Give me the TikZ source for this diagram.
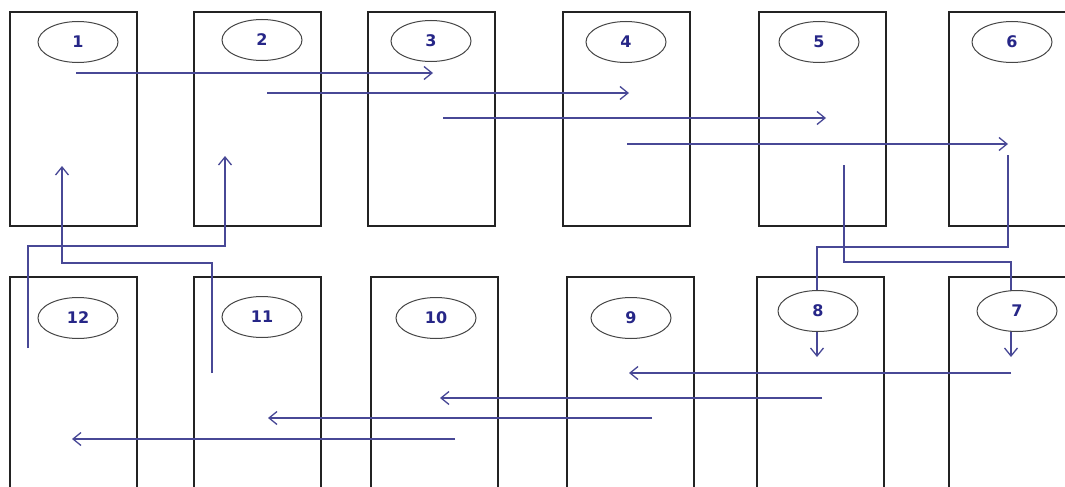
\documentclass[tikz,border=0pt]{standalone}
\usepackage{fontspec}
\setmainfont{DejaVu Sans}
\usetikzlibrary{shapes.geometric,arrows.meta}
\definecolor{boxline}{RGB}{35,35,35}
\definecolor{flow}{RGB}{72,72,150}
\definecolor{lbl}{RGB}{38,38,135}
\definecolor{ovl}{RGB}{70,70,70}
\begin{document}
\begin{tikzpicture}[x=1pt,y=-1pt,
  cell/.style={draw=boxline,line width=1.5pt,inner sep=0pt,minimum width=127pt},
  tcell/.style={cell,minimum height=214pt},
  bcell/.style={cell,minimum height=223pt},
  tag/.style={ellipse,draw=ovl,line width=1pt,fill=white,inner sep=0pt,
    minimum width=80pt,minimum height=41pt,text=lbl,
    font=\fontsize{16}{19}\selectfont\bfseries},
  flowline/.style={draw=flow,line width=1.3pt},
  flowarrow/.style={flowline,-{Straight Barb[length=8pt,width=13pt,line width=1.3pt]}}]
\useasboundingbox (0,0) rectangle (1065,487);
\clip (0,0) rectangle (1065,487);
% top boxes
\node[tcell] (b1) at (73.5,119) {};
\node[tcell] (b2) at (257.5,119) {};
\node[tcell] (b3) at (431.5,119) {};
\node[tcell] (b4) at (626.5,119) {};
\node[tcell] (b5) at (822.5,119) {};
\node[tcell,minimum width=131pt] (b6) at (1014.5,119) {};
% bottom boxes
\node[bcell] (b12) at (73.5,388.5) {};
\node[bcell] (b11) at (257.5,388.5) {};
\node[bcell] (b10) at (434.5,388.5) {};
\node[bcell] (b9) at (630.5,388.5) {};
\node[bcell] (b8) at (820.5,388.5) {};
\node[bcell,minimum width=131pt] (b7) at (1014.5,388.5) {};
% coordinates
\coordinate (s1) at (76,73);   \coordinate (e1) at (433,73);
\coordinate (s2) at (267,93);  \coordinate (e2) at (629,93);
\coordinate (s3) at (443,118); \coordinate (e3) at (826,118);
\coordinate (s4) at (627,144); \coordinate (e4) at (1008,144);
\coordinate (d6) at (1008,155); \coordinate (d6a) at (1008,247);
\coordinate (d6b) at (817,247); \coordinate (d6e) at (817,357);
\coordinate (d5) at (844,165); \coordinate (d5a) at (844,262);
\coordinate (d5b) at (1011,262); \coordinate (d5e) at (1011,357);
\coordinate (s7) at (1011,373); \coordinate (e7) at (629,373);
\coordinate (s8) at (822,398);  \coordinate (e8) at (440,398);
\coordinate (s9) at (652,418);  \coordinate (e9) at (268,418);
\coordinate (s10) at (455,439); \coordinate (e10) at (72,439);
\coordinate (u11) at (212,373); \coordinate (u11a) at (212,263);
\coordinate (u11b) at (62,263); \coordinate (u11e) at (62,166);
\coordinate (u12) at (28,348);  \coordinate (u12a) at (28,246);
\coordinate (u12b) at (225,246); \coordinate (u12e) at (225,156);
% connectors
\draw[flowarrow] (s1) -- (e1);
\draw[flowarrow] (s2) -- (e2);
\draw[flowarrow] (s3) -- (e3);
\draw[flowarrow] (s4) -- (e4);
\draw[flowarrow] (d6) -- (d6a) -- (d6b) -- (d6e);
\draw[flowarrow] (d5) -- (d5a) -- (d5b) -- (d5e);
\draw[flowarrow] (s7) -- (e7);
\draw[flowarrow] (s8) -- (e8);
\draw[flowarrow] (s9) -- (e9);
\draw[flowarrow] (s10) -- (e10);
\draw[flowarrow] (u11) -- (u11a) -- (u11b) -- (u11e);
\draw[flowarrow] (u12) -- (u12a) -- (u12b) -- (u12e);
% labels
\node[tag] (t1) at (78,42) {1};
\node[tag] (t2) at (262,40) {2};
\node[tag] (t3) at (431,41) {3};
\node[tag] (t4) at (626,42) {4};
\node[tag] (t5) at (819,42) {5};
\node[tag] (t6) at (1012,42) {6};
\node[tag] (t7) at (1017,311) {7};
\node[tag] (t8) at (818,311) {8};
\node[tag] (t9) at (631,318) {9};
\node[tag] (t10) at (436,318) {10};
\node[tag] (t11) at (262,317) {11};
\node[tag] (t12) at (78,318) {12};
\end{tikzpicture}
\end{document}
